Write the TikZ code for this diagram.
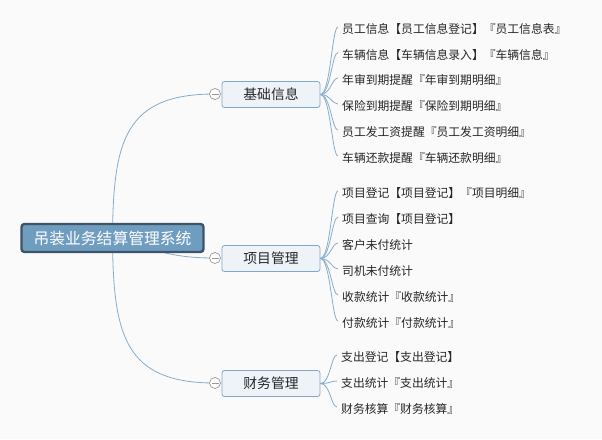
\documentclass[tikz,border=0pt]{standalone}
\usepackage{fontspec}
\setmainfont{Noto Sans CJK SC}
\begin{document}
\begin{tikzpicture}[x=1pt,y=-1pt,
  conn/.style={draw=linkc,line width=0.8pt},
  rootbox/.style={draw=rootborder,fill=rootfill,line width=2.4pt,rounded corners=3pt,minimum width=182pt,minimum height=28pt,inner sep=0pt,text=white,font=\fontsize{15.8}{18}\selectfont},
  branchbox/.style={draw=branchborder,fill=branchfill,line width=0.8pt,rounded corners=2.5pt,minimum width=98pt,minimum height=26pt,inner sep=0pt,text=black!85,font=\fontsize{13.8}{16}\selectfont},
  leaf/.style={anchor=west,inner sep=0pt,text=black!85,font=\fontsize{11.8}{14}\selectfont},
  foldc/.style={circle,draw=gray!80,fill=white,line width=0.7pt,minimum size=11pt,inner sep=0pt}
]
\definecolor{linkc}{HTML}{86ADCB}
\definecolor{rootborder}{HTML}{3E5468}
\definecolor{rootfill}{HTML}{6F9DC0}
\definecolor{branchborder}{HTML}{80A7C8}
\definecolor{branchfill}{HTML}{EEF3F8}
\fill[white!98!black] (0,0) rectangle (602,439);
\useasboundingbox (0,0) rectangle (602,439);

% root center coordinate
\coordinate (rc) at (112.5,238);
% fold circles
\coordinate (f1) at (215,94);
\coordinate (f2) at (215,258);
\coordinate (f3) at (215,383);

% root-to-branch curves (behind root)
\draw[conn] (rc) .. controls (113,140) and (125,94) .. (f1);
\draw[conn] (rc) .. controls (160,252) and (175,258) .. (f2);
\draw[conn] (rc) .. controls (113,336) and (125,383) .. (f3);

\node[rootbox] (root) at (112.5,238) {吊装业务结算管理系统};

\node[branchbox] (b1) at (271,94.5) {基础信息};
\node[branchbox] (b2) at (271,258.5) {项目管理};
\node[branchbox] (b3) at (271,383.5) {财务管理};

\node[foldc] (c1) at (f1) {};
\node[foldc] (c2) at (f2) {};
\node[foldc] (c3) at (f3) {};
\foreach \c in {c1,c2,c3}{
  \draw[gray!80,line width=0.7pt] ([xshift=-3.5pt]\c.center) -- ([xshift=3.5pt]\c.center);
}

% leaves
\node[leaf] (l11) at (342,29) {员工信息【员工信息登记】『员工信息表』};
\node[leaf] (l12) at (342,54.5) {车辆信息【车辆信息录入】『车辆信息』};
\node[leaf] (l13) at (342,80) {年审到期提醒『年审到期明细』};
\node[leaf] (l14) at (342,106) {保险到期提醒『保险到期明细』};
\node[leaf] (l15) at (342,132) {员工发工资提醒『员工发工资明细』};
\node[leaf] (l16) at (342,158) {车辆还款提醒『车辆还款明细』};

\node[leaf] (l21) at (342,193) {项目登记【项目登记】『项目明细』};
\node[leaf] (l22) at (342,219) {项目查询【项目登记】};
\node[leaf] (l23) at (342,245) {客户未付统计};
\node[leaf] (l24) at (342,271) {司机未付统计};
\node[leaf] (l25) at (342,297) {收款统计『收款统计』};
\node[leaf] (l26) at (342,323) {付款统计『付款统计』};

\node[leaf] (l31) at (341,357) {支出登记【支出登记】};
\node[leaf] (l32) at (341,383) {支出统计『支出统计』};
\node[leaf] (l33) at (341,409) {财务核算『财务核算』};

% leaf connectors
\foreach \l in {l11,l12,l13,l14,l15,l16}{
  \draw[conn] (b1.east) .. controls +(10,0) and ([xshift=-10pt,yshift=2pt]\l.west) .. ([xshift=-4pt,yshift=2pt]\l.west);
}
\foreach \l in {l21,l22,l23,l24,l25,l26}{
  \draw[conn] (b2.east) .. controls +(10,0) and ([xshift=-10pt,yshift=2pt]\l.west) .. ([xshift=-4pt,yshift=2pt]\l.west);
}
\foreach \l in {l31,l32,l33}{
  \draw[conn] (b3.east) .. controls +(10,0) and ([xshift=-10pt,yshift=2pt]\l.west) .. ([xshift=-4pt,yshift=2pt]\l.west);
}
\end{tikzpicture}
\end{document}
